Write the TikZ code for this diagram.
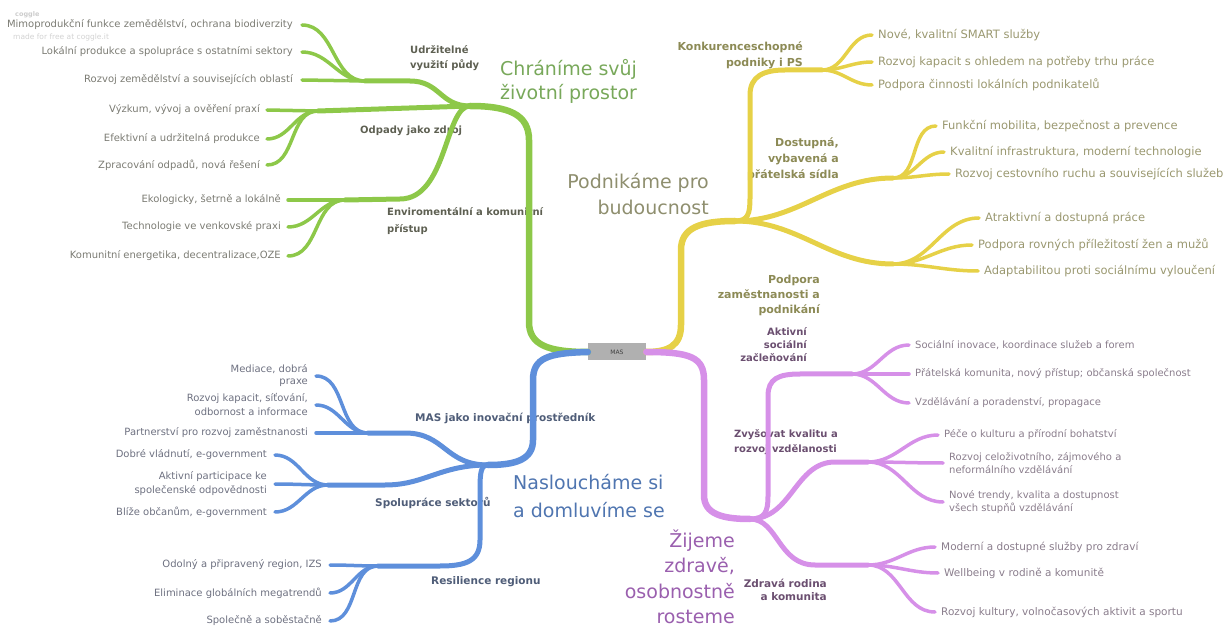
\documentclass[tikz,border=0pt]{standalone}
\usepackage{fontspec}
\setmainfont{DejaVu Sans}
\usetikzlibrary{positioning}
\definecolor{mapgreen}{HTML}{8DC849}
\definecolor{mapyellow}{HTML}{E6D147}
\definecolor{mapblue}{HTML}{5E8FDB}
\definecolor{mappurple}{HTML}{D690E8}
\definecolor{gtxt}{HTML}{7B7B73}
\definecolor{gcat}{HTML}{5E6052}
\definecolor{gmain}{HTML}{78A85A}
\definecolor{ytxt}{HTML}{9A9870}
\definecolor{ycat}{HTML}{8C8A55}
\definecolor{ymain}{HTML}{8E8E6E}
\definecolor{btxt}{HTML}{6D7080}
\definecolor{bcat}{HTML}{4F5D78}
\definecolor{bmain}{HTML}{4F75B0}
\definecolor{ptxt}{HTML}{8A7D8C}
\definecolor{pcat}{HTML}{6B4F70}
\definecolor{pmain}{HTML}{9A5FAE}

\tikzset{
  trunk/.style={line width=6.5pt,line cap=round},
  branch/.style={line width=5pt,line cap=round},
  twig/.style={line width=3.5pt,line cap=round},
  masbox/.style={fill=gray!62,minimum width=58pt,minimum height=17pt,inner sep=0pt,
    text=black!75,font=\fontsize{6}{6}\selectfont},
  leafg/.style={anchor=east,inner sep=0pt,text=gtxt,font=\fontsize{10}{12}\selectfont},
  leafy/.style={anchor=west,inner sep=0pt,text=ytxt,font=\fontsize{11.5}{14}\selectfont},
  leafb/.style={anchor=east,inner sep=0pt,text=btxt,align=right,font=\fontsize{10}{13}\selectfont},
  leafp/.style={anchor=west,inner sep=0pt,text=ptxt,align=left,font=\fontsize{10}{13.5}\selectfont},
  leafpz/.style={leafp,font=\fontsize{10.5}{13}\selectfont},
  catg/.style={inner sep=0pt,text=gcat,font=\fontsize{10}{15}\selectfont\bfseries},
  caty/.style={inner sep=0pt,text=ycat,font=\fontsize{11}{16}\selectfont\bfseries},
  catb/.style={inner sep=0pt,text=bcat,font=\fontsize{10.5}{14}\selectfont\bfseries},
  catp/.style={inner sep=0pt,text=pcat,font=\fontsize{10}{14}\selectfont\bfseries},
  topic/.style={inner sep=0pt,font=\fontsize{19}{24}\selectfont},
}

\begin{document}
\begin{tikzpicture}[x=1pt,y=-1pt]
\useasboundingbox (0,0) rectangle (1232,628);

% centre
\node[masbox] (mas) at (617,352) {MAS};
\node[anchor=west,inner sep=0pt,text=gray!40,font=\fontsize{6.5}{7}\selectfont\bfseries] (cg) at (15,15) {coggle};
\node[anchor=west,inner sep=0pt,text=gray!35,font=\fontsize{7.5}{8}\selectfont] (cgf) at (13,37) {made for free at coggle.it};

% --- zelena: Chranime svuj zivotni prostor
\node[topic,text=gmain,anchor=west,align=left] (gM) at (500,81) {Chráníme svůj\\životní prostor};
\node[catg,anchor=west,align=left] (gU) at (410,58) {Udržitelné\\využití půdy};
\node[catg,anchor=west] (gO) at (360,131) {Odpady jako zdroj};
\node[catg,anchor=west,align=left,font=\fontsize{10}{17}\selectfont\bfseries] (gE) at (387,221) {Enviromentální a komunitní\\přístup};
\node[leafg] (g1) at (293,25) {Mimoprodukční funkce zemědělství, ochrana biodiverzity};
\node[leafg] (g2) at (293,52) {Lokální produkce a spolupráce s ostatními sektory};
\node[leafg] (g3) at (293,80) {Rozvoj zemědělství a souvisejících oblastí};
\node[leafg] (g4) at (260,110) {Výzkum, vývoj a ověření praxí};
\node[leafg] (g5) at (260,139) {Efektivní a udržitelná produkce};
\node[leafg] (g6) at (260,165) {Zpracování odpadů, nová řešení};
\node[leafg] (g7) at (281,200) {Ekologicky, šetrně a lokálně};
\node[leafg] (g8) at (281,227) {Technologie ve venkovské praxi};
\node[leafg] (g9) at (281,256) {Komunitní energetika, decentralizace,OZE};

\coordinate (gHub) at (470,106);
\coordinate (gUh) at (365,81);
\coordinate (gOh) at (318,111);
\coordinate (gEh) at (345,200);
\draw[trunk,mapgreen] (mas.west) .. controls (548,352) and (529,345) .. (529,322)
  -- (529,140) .. controls (529,114) and (508,106) .. (gHub);
\draw[branch,mapgreen] (gHub) .. controls (440,106) and (440,81) .. (410,81) -- (gUh);
\draw[branch,mapgreen] (gHub) -- (gOh);
\draw[branch,mapgreen] (gHub) .. controls (445,106) and (447,199) .. (400,199) -- (gEh);
\draw[twig,mapgreen] ([xshift=9pt]g1.east) to[out=0,in=180] (gUh);
\draw[twig,mapgreen] ([xshift=9pt]g2.east) to[out=0,in=180] (gUh);
\draw[twig,mapgreen] ([xshift=9pt]g3.east) -- (gUh);
\draw[twig,mapgreen] ([xshift=7pt]g4.east) -- (gOh);
\draw[twig,mapgreen] ([xshift=7pt]g5.east) to[out=0,in=180] (gOh);
\draw[twig,mapgreen] ([xshift=7pt]g6.east) to[out=0,in=180] (gOh);
\draw[twig,mapgreen] ([xshift=7pt]g7.east) -- (gEh);
\draw[twig,mapgreen] ([xshift=7pt]g8.east) to[out=0,in=180] (gEh);
\draw[twig,mapgreen] ([xshift=7pt]g9.east) to[out=0,in=180] (gEh);

% --- zluta: Podnikame pro budoucnost
\node[topic,text=ymain,anchor=east,align=right,font=\fontsize{19}{26}\selectfont] (yM) at (709,194) {Podnikáme pro\\budoucnost};
\node[caty,anchor=east,align=right] (yK) at (803,55) {Konkurenceschopné\\podniky i PS};
\node[caty,anchor=east,align=right] (yD) at (839,159) {Dostupná,\\vybavená a\\přátelská sídla};
\node[caty,anchor=east,align=right,font=\fontsize{11}{15}\selectfont\bfseries] (yZ) at (820,295) {Podpora\\zaměstnanosti a\\podnikání};
\node[leafy] (y1) at (878,35) {Nové, kvalitní SMART služby};
\node[leafy] (y2) at (878,62) {Rozvoj kapacit s ohledem na potřeby trhu práce};
\node[leafy] (y3) at (878,85) {Podpora činnosti lokálních podnikatelů};
\node[leafy] (y4) at (942,126) {Funkční mobilita, bezpečnost a prevence};
\node[leafy] (y5) at (950,152) {Kvalitní infrastruktura, moderní technologie};
\node[leafy] (y6) at (955,174) {Rozvoj cestovního ruchu a souvisejících služeb};
\node[leafy] (y7) at (985,218) {Atraktivní a dostupná práce};
\node[leafy] (y8) at (978,245) {Podpora rovných příležitostí žen a mužů};
\node[leafy] (y9) at (984,271) {Adaptabilitou proti sociálnímu vyloučení};

\coordinate (yHub) at (735,221);
\coordinate (yKh) at (822,70);
\coordinate (yDh) at (893,178);
\coordinate (yZh) at (893,264);
\draw[trunk,mapyellow] (mas.east) .. controls (668,352) and (681,346) .. (681,325)
  -- (681,250) .. controls (681,228) and (700,221) .. (yHub);
\draw[branch,mapyellow] (yHub) .. controls (748,221) and (750,214) .. (750,198)
  -- (750,95) .. controls (750,76) and (764,70) .. (785,70) -- (yKh);
\draw[branch,mapyellow] (yHub) to[out=0,in=180] (yDh);
\draw[branch,mapyellow] (yHub) to[out=0,in=180] (yZh);
\foreach \l/\h in {y1/yKh,y2/yKh,y3/yKh,y4/yDh,y5/yDh,y6/yDh,y7/yZh,y8/yZh,y9/yZh}
  \draw[twig,mapyellow] (\h) to[out=0,in=180] ([xshift=-6pt]\l.west);

% --- fialova: Zijeme zdrave, osobnostne rosteme
\node[topic,text=pmain,anchor=east,align=right,font=\fontsize{19}{25.5}\selectfont] (pM) at (735,577) {Žijeme\\zdravě,\\osobnostně\\rosteme};
\node[catp,anchor=east,align=right,font=\fontsize{10}{13}\selectfont\bfseries] (pA) at (807,345) {Aktivní\\sociální\\začleňování};
\node[catp,anchor=west,align=left,font=\fontsize{10}{15}\selectfont\bfseries] (pZ) at (734,442) {Zvyšovat kvalitu a\\rozvoj vzdělanosti};
\node[catp,anchor=east,align=right,font=\fontsize{10.5}{13}\selectfont\bfseries] (pR) at (827,590) {Zdravá rodina\\a komunita};
\node[leafp] (p1) at (915,345) {Sociální inovace, koordinace služeb a forem};
\node[leafp] (p2) at (915,374) {Přátelská komunita, nový přístup; občanská společnost};
\node[leafp] (p3) at (915,403) {Vzdělávání a poradenství, propagace};
\node[leafp] (p4) at (944,435) {Péče o kulturu a přírodní bohatství};
\node[leafp] (p5) at (949,463) {Rozvoj celoživotního, zájmového a\\neformálního vzdělávání};
\node[leafp] (p6) at (949,502) {Nové trendy, kvalita a dostupnost\\všech stupňů vzdělávání};
\node[leafpz] (p7) at (941,547) {Moderní a dostupné služby pro zdraví};
\node[leafpz] (p8) at (944,573) {Wellbeing v rodině a komunitě};
\node[leafpz] (p9) at (941,612) {Rozvoj kultury, volnočasových aktivit a sportu};

\coordinate (pHub) at (750,519);
\coordinate (pAh) at (852,374);
\coordinate (pZh) at (868,462);
\coordinate (pRh) at (868,565);
\draw[trunk,mappurple] (mas.east) .. controls (690,352) and (704,357) .. (704,380)
  -- (704,495) .. controls (704,514) and (722,519) .. (pHub);
\draw[branch,mappurple] (pHub) .. controls (765,519) and (768,512) .. (768,496)
  -- (768,396) .. controls (768,379) and (778,374) .. (800,374) -- (pAh);
\draw[branch,mappurple] (pHub) .. controls (792,519) and (795,462) .. (835,462) -- (pZh);
\draw[branch,mappurple] (pHub) .. controls (778,519) and (778,565) .. (815,565) -- (pRh);
\foreach \l/\h in {p1/pAh,p2/pAh,p3/pAh,p4/pZh,p5/pZh,p6/pZh,p7/pRh,p8/pRh,p9/pRh}
  \draw[twig,mappurple] (\h) to[out=0,in=180] ([xshift=-6pt]\l.west);

% --- modra: Nasloucháme si a domluvíme se
\node[topic,text=bmain,anchor=west,align=left,font=\fontsize{19}{28}\selectfont] (bM) at (513,496) {Nasloucháme si\\a domluvíme se};
\node[catb,anchor=west] (bMl) at (415,418) {MAS jako inovační prostředník};
\node[catb,anchor=west] (bSl) at (375,503) {Spolupráce sektorů};
\node[catb,anchor=west] (bRl) at (431,582) {Resilience regionu};
\node[leafb,font=\fontsize{10}{12}\selectfont] (b1) at (308,376) {Mediace, dobrá\\praxe};
\node[leafb,font=\fontsize{10}{14}\selectfont] (b2) at (308,405) {Rozvoj kapacit, síťování,\\odbornost a informace};
\node[leafb] (b3) at (308,433) {Partnerství pro rozvoj zaměstnanosti};
\node[leafb] (b4) at (267,455) {Dobré vládnutí, e-government};
\node[leafb,font=\fontsize{10}{14}\selectfont] (b5) at (267,484) {Aktivní participace ke\\společenské odpovědnosti};
\node[leafb] (b6) at (267,512) {Blíže občanům, e-government};
\node[leafb] (b7) at (322,565) {Odolný a připravený region, IZS};
\node[leafb] (b8) at (322,593) {Eliminace globálních megatrendů};
\node[leafb] (b9) at (322,621) {Společně a soběstačně};

\coordinate (bHub) at (488,465);
\coordinate (bMh) at (368,433);
\coordinate (bSh) at (328,485);
\coordinate (bRh) at (378,566);
\draw[trunk,mapblue] (mas.west) .. controls (548,353) and (533,358) .. (533,380)
  -- (533,440) .. controls (533,460) and (515,465) .. (bHub);
\draw[branch,mapblue] (bHub) .. controls (445,465) and (445,433) .. (405,433) -- (bMh);
\draw[branch,mapblue] (bHub) .. controls (440,465) and (425,485) .. (385,485) -- (bSh);
\draw[branch,mapblue] (bHub) .. controls (481,465) and (480,472) .. (480,490)
  -- (480,540) .. controls (480,561) and (466,566) .. (440,566) -- (bRh);
\foreach \l/\h in {b1/bMh,b2/bMh,b3/bMh,b4/bSh,b5/bSh,b6/bSh,b7/bRh,b8/bRh,b9/bRh}
  \draw[twig,mapblue] ([xshift=8pt]\l.east) to[out=0,in=180] (\h);

\end{tikzpicture}
\end{document}
